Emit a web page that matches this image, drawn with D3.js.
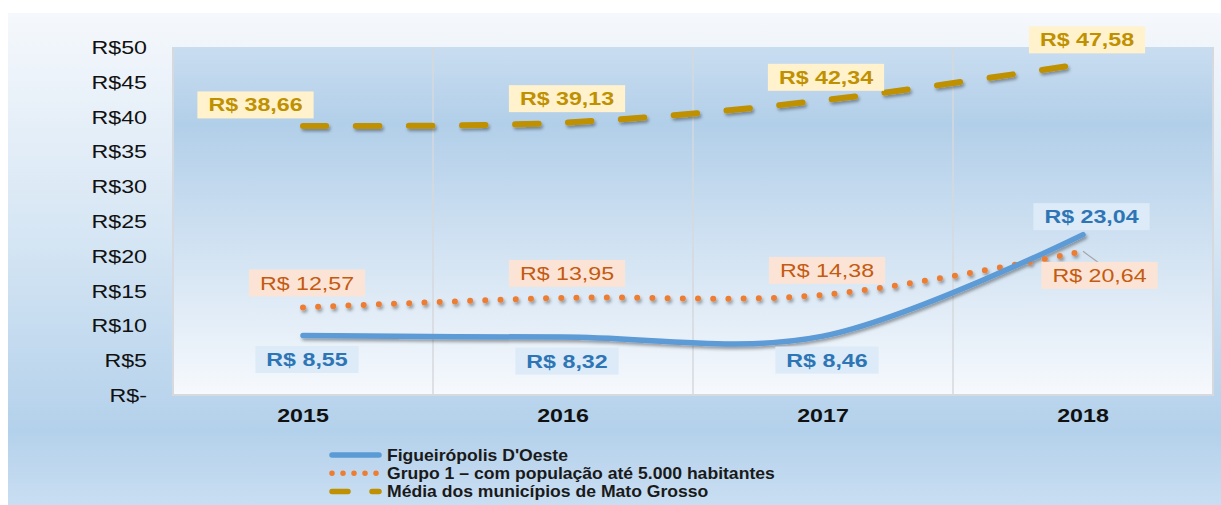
<!DOCTYPE html>
<html>
<head>
<meta charset="utf-8">
<script src="https://cdn.jsdelivr.net/npm/d3@7"></script>
<style>
  body { margin: 0; background: #fff; }
  text { font-family: "Liberation Sans", Arial, sans-serif; }
</style>
</head>
<body>
<div id="chart"></div>
<script>
// Data
const years = ["2015", "2016", "2017", "2018"];
const figueiropolis = [8.55, 8.32, 8.46, 23.04];
const grupo1 = [12.57, 13.95, 14.38, 20.64];
const mediaMT = [38.66, 39.13, 42.34, 47.58];
const yTicks = [0, 5, 10, 15, 20, 25, 30, 35, 40, 45, 50];
const seriesNames = [
  "Figueirópolis D'Oeste",
  "Grupo 1 – com população até 5.000 habitantes",
  "Média dos municípios de Mato Grosso",
];

// label nudges (px from the point, text centre)
const labelNudge = {
  media: [[-47.5, -21], [4, -24], [3, -23], [4, -24]],
  fig: [[4, 24], [4, 24], [4, 24], [8.5, -18]],
  grupo: [[4, -24.5], [4, -24.5], [4, -24.5], [16.5, 24]],
};

const fmtLabel = (v) => "R$ " + d3.format(".2f")(v).replace(".", ",");
const fmtTick = (v) => (v === 0 ? "R$-" : "R$" + v);

const dimensions = {
  width: 1221,
  height: 505,
  plot: { left: 173, right: 1213, top: 47, bottom: 395 },
};
const sx = 1.29; // the picture is stretched horizontally

const svg = d3
  .select("#chart")
  .append("svg")
  .attr("width", dimensions.width)
  .attr("height", dimensions.height);

const defs = svg.append("defs");
const outerGrad = defs
  .append("linearGradient")
  .attr("id", "outerGrad")
  .attr("x1", 0).attr("y1", 0).attr("x2", 0).attr("y2", 1);
outerGrad.append("stop").attr("offset", "0%").attr("stop-color", "#f5f8fc");
outerGrad.append("stop").attr("offset", "45%").attr("stop-color", "#d6e6f4");
outerGrad.append("stop").attr("offset", "85%").attr("stop-color", "#b4d1eb");
outerGrad.append("stop").attr("offset", "100%").attr("stop-color", "#c9def2");

const plotGrad = defs
  .append("linearGradient")
  .attr("id", "plotGrad")
  .attr("x1", 0).attr("y1", 0).attr("x2", 0).attr("y2", 1);
plotGrad.append("stop").attr("offset", "0%").attr("stop-color", "#c9ddf0");
plotGrad.append("stop").attr("offset", "22%").attr("stop-color", "#b2cfe9");
plotGrad.append("stop").attr("offset", "100%").attr("stop-color", "#f6f9fd");

const shadow = defs
  .append("filter")
  .attr("id", "shadow")
  .attr("filterUnits", "userSpaceOnUse")
  .attr("x", 0).attr("y", 0)
  .attr("width", dimensions.width).attr("height", dimensions.height);
shadow
  .append("feDropShadow")
  .attr("dx", 1.5).attr("dy", 2.5)
  .attr("stdDeviation", 1.5)
  .attr("flood-color", "#000")
  .attr("flood-opacity", 0.35);

// Backgrounds
svg
  .append("rect")
  .attr("x", 8).attr("y", 13)
  .attr("width", dimensions.width - 8)
  .attr("height", dimensions.height - 13)
  .attr("fill", "url(#outerGrad)");

const p = dimensions.plot;
svg
  .append("rect")
  .attr("x", p.left).attr("y", p.top)
  .attr("width", p.right - p.left)
  .attr("height", p.bottom - p.top)
  .attr("fill", "url(#plotGrad)");

// Scales
const xScale = d3.scaleBand().domain(years).range([p.left, p.right]).padding(0);
const xMid = (d) => xScale(d) + xScale.bandwidth() / 2;
const yScale = d3.scaleLinear().domain([0, 50]).range([p.bottom, p.top]);

// Vertical gridlines at category boundaries
svg
  .append("g")
  .selectAll("line")
  .data(years.slice(1))
  .join("line")
  .attr("x1", (d) => xScale(d)).attr("x2", (d) => xScale(d))
  .attr("y1", p.top).attr("y2", p.bottom)
  .attr("stroke", "#d6d9dd")
  .attr("stroke-width", 1.5);

// Frame (left, bottom, right)
svg
  .append("path")
  .attr("d", `M${p.left},${p.top}V${p.bottom}H${p.right}V${p.top}`)
  .attr("fill", "none")
  .attr("stroke", "#d6d9dd")
  .attr("stroke-width", 2);

// Axes
const stretch = (sel, k) =>
  sel.each(function () {
    const t = d3.select(this);
    const x = +t.attr("x") || 0;
    const y = +t.attr("y") || 0;
    t.attr("x", 0).attr("y", 0).attr("transform", `translate(${x},${y}) scale(${k},1)`);
  });

const yAxisG = svg
  .append("g")
  .attr("transform", `translate(${p.left},0)`)
  .call(d3.axisLeft(yScale).tickValues(yTicks).tickFormat(fmtTick).tickSize(0).tickPadding(26));
yAxisG.select(".domain").remove();
yAxisG
  .selectAll("text")
  .attr("font-size", 18)
  .attr("font-family", null)
  .attr("fill", "#111")
  .attr("dy", null)
  .attr("y", 6.5)
  .call(stretch, sx);

const xAxisG = svg
  .append("g")
  .attr("transform", `translate(0,${p.bottom})`)
  .call(d3.axisBottom(xScale).tickSize(0).tickPadding(0));
xAxisG.select(".domain").remove();
xAxisG
  .selectAll("text")
  .attr("font-size", 18)
  .attr("font-family", null)
  .attr("font-weight", "bold")
  .attr("fill", "#111")
  .attr("dy", null)
  .attr("y", 27)
  .call(stretch, sx);

// Lines
const series = [
  { key: "fig", values: figueiropolis, color: "#5b9bd5", width: 5.5, dash: null, linecap: "round",
    labelColor: "#2e75b6", labelFill: "#dcebf7", weight: "bold" },
  { key: "grupo", values: grupo1, color: "#ed7d31", width: 6, dash: "0,15.2", linecap: "round",
    labelColor: "#c55a11", labelFill: "#fbe4d5", weight: "normal" },
  { key: "media", values: mediaMT, color: "#bf9000", width: 6, dash: "23.5,29.5", linecap: "round",
    labelColor: "#bf9000", labelFill: "#fff2cc", weight: "bold" },
];

const line = d3
  .line()
  .x((d, i) => xMid(years[i]))
  .y((d) => yScale(d))
  .curve(d3.curveCardinal.tension(0));

const linesG = svg.append("g").attr("filter", "url(#shadow)");
linesG
  .selectAll("path")
  .data(series.slice().reverse())
  .join("path")
  .attr("d", (s) => line(s.values))
  .attr("fill", "none")
  .attr("stroke", (s) => s.color)
  .attr("stroke-width", (s) => s.width)
  .attr("stroke-linecap", (s) => s.linecap)
  .attr("stroke-dasharray", (s) => s.dash);

// Leader line for the last Grupo 1 label
{
  const xi = xMid(years[3]);
  const yi = yScale(grupo1[3]);
  svg
    .append("line")
    .attr("x1", xi).attr("y1", yi)
    .attr("x2", xi + labelNudge.grupo[3][0] - 1.5).attr("y2", yi + labelNudge.grupo[3][1] - 13)
    .attr("stroke", "#a6a6a6")
    .attr("stroke-width", 1.2);
}

// Data labels
const labelsG = svg.append("g");
series.forEach((s) => {
  s.values.forEach((v, i) => {
    const cx = xMid(years[i]) + labelNudge[s.key][i][0];
    const cy = yScale(v) + labelNudge[s.key][i][1];
    const g = labelsG.append("g");
    const rect = g.append("rect");
    const t = g
      .append("text")
      .attr("text-anchor", "middle")
      .attr("font-size", 18)
      .attr("font-weight", s.weight)
      .attr("fill", s.labelColor)
      .attr("transform", `translate(${cx},${cy + 6.5}) scale(${sx},1)`)
      .text(fmtLabel(v));
    const w = t.node().getComputedTextLength() * sx;
    rect
      .attr("x", cx - w / 2 - 11)
      .attr("y", cy - 13.5)
      .attr("width", w + 22)
      .attr("height", 27)
      .attr("fill", s.labelFill);
  });
});

// Legend
const legend = svg.append("g").attr("transform", "translate(329,455)");
const legendRows = legend
  .selectAll("g")
  .data(series)
  .join("g")
  .attr("transform", (d, i) => `translate(0,${i * 18.2})`);

legendRows
  .append("line")
  .attr("x1", (d) => (d.key === "grupo" ? 3 : 3))
  .attr("x2", (d) => (d.key === "grupo" ? 48 : 50))
  .attr("y1", 0).attr("y2", 0)
  .attr("stroke", (d) => d.color)
  .attr("stroke-width", (d) => (d.key === "grupo" ? 5.5 : 5.5))
  .attr("stroke-linecap", "round")
  .attr("stroke-dasharray", (d) => (d.key === "grupo" ? "0,11" : d.key === "media" ? "16,24" : null));

legendRows
  .append("text")
  .attr("font-size", 16)
  .attr("font-weight", "bold")
  .attr("fill", "#1a1a1a")
  .attr("transform", `translate(58,6) scale(1.1,1)`)
  .text((d, i) => seriesNames[i]);
</script>
</body>
</html>
